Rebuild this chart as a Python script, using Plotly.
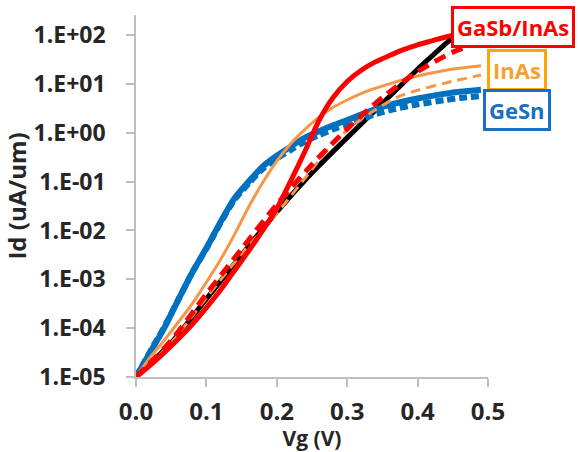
import plotly.graph_objects as go

# ---- data (Vg in V, log10 of Id in uA/um) ----
vg_black = [0, 0.05, 0.10, 0.15, 0.20, 0.25, 0.30, 0.35, 0.40, 0.45]
log_black = [-5, -4.3, -3.4, -2.5, -1.62, -0.82, -0.1, 0.6, 1.3, 1.95]

vg_red = [0, 0.02, 0.04, 0.06, 0.08, 0.10, 0.12, 0.14, 0.16, 0.18, 0.20, 0.22,
          0.24, 0.26, 0.28, 0.30, 0.32, 0.34, 0.36, 0.38, 0.40, 0.42, 0.44, 0.46]
log_red = [-5, -4.76, -4.5, -4.22, -3.92, -3.58, -3.22, -2.82, -2.42, -2.0, -1.55, -0.98,
           -0.38, 0.25, 0.72, 1.05, 1.28, 1.45, 1.58, 1.7, 1.8, 1.88, 1.96, 2.03]

vg_red_d = [0, 0.05, 0.10, 0.15, 0.20, 0.25, 0.30, 0.35, 0.40, 0.45, 0.47]
log_red_d = [-5, -4.25, -3.3, -2.38, -1.47, -0.65, 0.08, 0.72, 1.25, 1.65, 1.76]

vg_orange = [0, 0.02, 0.04, 0.06, 0.08, 0.10, 0.12, 0.14, 0.16, 0.18, 0.20, 0.22,
             0.24, 0.26, 0.28, 0.30, 0.33, 0.36, 0.40, 0.44, 0.49]
log_orange = [-5, -4.6, -4.25, -3.88, -3.5, -3.06, -2.6, -2.08, -1.52, -1.02, -0.58,
              -0.22, 0.07, 0.32, 0.52, 0.67, 0.86, 1.0, 1.16, 1.28, 1.37]

vg_orange_d = [0, 0.05, 0.10, 0.15, 0.20, 0.25, 0.28, 0.30, 0.32, 0.34, 0.37, 0.40, 0.44, 0.49]
log_orange_d = [-5, -4.3, -3.38, -2.48, -1.65, -0.75, -0.2, 0.05, 0.28, 0.47, 0.72, 0.87, 1.02, 1.18]

vg_blue = [0, 0.02, 0.04, 0.06, 0.08, 0.10, 0.12, 0.14, 0.16, 0.18, 0.20, 0.22,
           0.24, 0.26, 0.28, 0.30, 0.33, 0.36, 0.40, 0.44, 0.46, 0.49]
log_blue = [-5, -4.5, -4.0, -3.42, -2.86, -2.36, -1.83, -1.34, -1.0, -0.69, -0.47, -0.28,
            -0.1, 0.03, 0.15, 0.26, 0.43, 0.57, 0.7, 0.8, 0.84, 0.88]
log_blue_d = [-5, -4.48, -3.98, -3.42, -2.86, -2.37, -1.85, -1.37, -1.04, -0.74, -0.53, -0.35,
              -0.18, -0.05, 0.07, 0.17, 0.33, 0.46, 0.58, 0.67, 0.71, 0.75]

y_tickvals = [1e-5, 1e-4, 1e-3, 1e-2, 1e-1, 1e0, 1e1, 1e2]
y_ticktext = ["1.E-05", "1.E-04", "1.E-03", "1.E-02", "1.E-01", "1.E+00", "1.E+01", "1.E+02"]
x_tickvals = [0.0, 0.1, 0.2, 0.3, 0.4, 0.5]
x_ticktext = ["0.0", "0.1", "0.2", "0.3", "0.4", "0.5"]

labels = ["GaSb/InAs", "InAs", "GeSn"]

RED = "#ff0000"
ORANGE = "#f79646"
BLUE = "#0070c0"


def lin(v):
    return [10 ** a for a in v]


SM = 0.8
fig = go.Figure()
fig.add_trace(go.Scatter(x=vg_black, y=lin(log_black), mode="lines",
                         line=dict(color="black", width=5, shape="spline", smoothing=SM)))
fig.add_trace(go.Scatter(x=vg_blue, y=lin(log_blue), mode="lines",
                         line=dict(color=BLUE, width=6, shape="spline", smoothing=SM)))
fig.add_trace(go.Scatter(x=vg_blue, y=lin(log_blue_d), mode="lines",
                         line=dict(color=BLUE, width=6, dash="8px,4px", shape="spline", smoothing=SM)))
fig.add_trace(go.Scatter(x=vg_orange, y=lin(log_orange), mode="lines",
                         line=dict(color=ORANGE, width=3, shape="spline", smoothing=SM)))
fig.add_trace(go.Scatter(x=vg_orange_d, y=lin(log_orange_d), mode="lines",
                         line=dict(color=ORANGE, width=3, dash="10px,6px", shape="spline", smoothing=SM)))
fig.add_trace(go.Scatter(x=vg_red, y=lin(log_red), mode="lines",
                         line=dict(color=RED, width=5, shape="spline", smoothing=SM)))
fig.add_trace(go.Scatter(x=vg_red_d, y=lin(log_red_d), mode="lines",
                         line=dict(color=RED, width=5, dash="12px,7px", shape="spline", smoothing=SM)))

FONT = "Open Sans"
TXT = "#262626"
AX = "#bfbfbf"

fig.update_layout(
    width=579, height=452,
    margin=dict(l=136, r=91, t=15, b=75),
    paper_bgcolor="white", plot_bgcolor="white",
    showlegend=False,
    font=dict(family=FONT, size=22, color=TXT, weight="bold"),
)
fig.update_xaxes(
    range=[0, 0.5], tickvals=x_tickvals, ticktext=x_ticktext, automargin=False,
    showgrid=False, zeroline=False, showline=True, linecolor=AX, linewidth=1.5,
    ticks="outside", ticklen=8, tickcolor=AX, tickwidth=1.5, ticklabelstandoff=4,
    tickfont=dict(family=FONT, size=24, color=TXT, weight="bold"),
    title=dict(text="Vg (V)", font=dict(family=FONT, size=21, color=TXT, weight="bold"),
               standoff=0),
)
fig.update_yaxes(
    type="log", range=[-5, 2.41], tickvals=y_tickvals, ticktext=y_ticktext, automargin=False,
    showgrid=False, zeroline=False, showline=True, linecolor=AX, linewidth=1.5,
    ticks="outside", ticklen=8, tickcolor=AX, tickwidth=1.5, ticklabelstandoff=16,
    tickfont=dict(family=FONT, size=23, color=TXT, weight="bold"),
    title=dict(text="Id (uA/um)", font=dict(family=FONT, size=24, color=TXT, weight="bold"),
               standoff=2),
)

box_specs = [
    (labels[0], RED, RED, 1.0724, 0.9682),
    (labels[1], "#f7a030", "#ffa500", 1.081, 0.8494),
    (labels[2], "#1b6fc0", "#1b6fc0", 1.0838, 0.7376),
]
for text, fc, bc, ax_, ay_ in box_specs:
    fig.add_annotation(
        text=text, xref="paper", yref="paper", x=ax_, y=ay_,
        xanchor="center", yanchor="middle", showarrow=False,
        font=dict(family=FONT, size=22, color=fc, weight="bold"),
        bgcolor="white", bordercolor=bc, borderwidth=3, borderpad=3,
    )

fig.write_html("out.html", config={"displayModeBar": False},
               post_script="document.body.style.margin='0';document.body.style.padding='0';")
